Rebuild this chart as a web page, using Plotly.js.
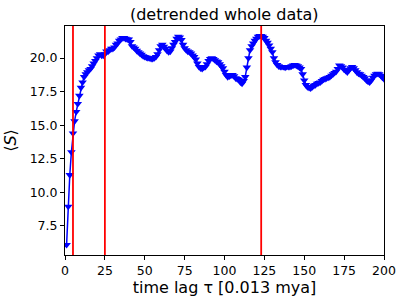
<!DOCTYPE html>
<html>
<head>
<meta charset="utf-8">
<script src="https://cdn.plot.ly/plotly-3.0.1.min.js"></script>
<style>html,body{margin:0;padding:0;background:#fff;}#chart{width:407px;height:305px;}</style>
</head>
<body>
<div id="chart"></div>
<script>
const lagValues = [
6.1, 8.95, 11.3, 13.0, 14.4, 15.3, 16.0, 16.6, 17.2, 17.8,
18.2, 18.6, 18.8, 18.95, 19.1, 19.2, 19.4, 19.6, 19.8, 20.0,
20.2, 20.3, 20.2, 20.2, 20.3, 20.5, 20.5, 20.6, 20.7, 20.7,
20.8, 21.0, 21.1, 21.3, 21.4, 21.5, 21.5, 21.45, 21.4, 21.4,
21.2, 20.9, 20.8, 20.7, 20.55, 20.45, 20.35, 20.25, 20.15, 20.1,
20.05, 20.0, 20.0, 19.95, 19.95, 20.0, 20.1, 20.3, 20.6, 20.9,
21.0, 20.85, 20.7, 20.55, 20.45, 20.5, 20.75, 21.0, 21.2, 21.45,
21.6, 21.55, 21.35, 21.0, 20.75, 20.6, 20.5, 20.45, 20.35, 20.2,
20.1, 19.9, 19.6, 19.35, 19.25, 19.2, 19.3, 19.35, 19.55, 19.8,
19.95, 20.0, 19.95, 19.85, 19.75, 19.7, 19.55, 19.4, 19.25, 19.0,
18.75, 18.6, 18.65, 18.7, 18.75, 18.65, 18.5, 18.45, 18.4, 18.2,
18.1, 18.3, 18.6, 19.3, 20.0, 20.6, 20.9, 21.1, 21.3, 21.45,
21.6, 21.65, 21.65, 21.6, 21.5, 21.3, 21.15, 20.95, 20.7, 20.45,
20.0, 19.7, 19.5, 19.4, 19.35, 19.35, 19.35, 19.3, 19.35, 19.35,
19.35, 19.4, 19.45, 19.5, 19.45, 19.4, 19.3, 19.2, 18.8, 18.35,
18.0, 17.85, 17.8, 17.75, 17.85, 17.95, 18.0, 18.1, 18.15, 18.2,
18.3, 18.4, 18.45, 18.5, 18.55, 18.6, 18.7, 18.8, 18.9, 19.0,
19.2, 19.45, 19.4, 19.3, 19.15, 19.05, 18.95, 19.1, 19.25, 19.35,
19.25, 19.1, 18.95, 18.85, 18.8, 18.7, 18.6, 18.5, 18.35, 18.25,
18.2, 18.35, 18.55, 18.7, 18.8, 18.85, 18.8, 18.7, 18.55, 18.45
];
const lags = lagValues.map((v, i) => i + 1);
const markerLags = [5, 25, 123];
const xTicks = [0, 25, 50, 75, 100, 125, 150, 175, 200];
const yTicks = [7.5, 10.0, 12.5, 15.0, 17.5, 20.0];

const font = {family: 'DejaVu Sans, sans-serif', color: '#000'};

const trace = {
  x: lags, y: lagValues, type: 'scatter', mode: 'lines+markers',
  line: {color: '#0000ff', width: 1.5},
  marker: {symbol: 'triangle-down', size: 7.5, color: '#0000ff'},
  hoverinfo: 'none'
};

const shapes = markerLags.map(x => ({
  type: 'line', xref: 'x', yref: 'paper', x0: x, x1: x, y0: 0, y1: 1,
  line: {color: '#ff0000', width: 1.8}
}));

const layout = {
  width: 407, height: 305,
  margin: {l: 65, r: 23, t: 26, b: 50},
  paper_bgcolor: '#fff', plot_bgcolor: '#fff',
  showlegend: false,
  title: {text: '(detrended whole data)', font: Object.assign({size: 16}, font), x: 0.551, xanchor: 'center', y: 0.952, yanchor: 'middle'},
  xaxis: {
    range: [0, 200], tickvals: xTicks, ticktext: xTicks.map(String),
    ticks: 'outside', ticklen: 4, tickcolor: '#000', tickwidth: 1,
    showgrid: false, zeroline: false, showline: true, linecolor: '#000', linewidth: 1, mirror: true,
    tickfont: Object.assign({size: 12.5}, font),
    title: {text: 'time lag τ [0.013 mya]', font: Object.assign({size: 16}, font), standoff: 4}
  },
  yaxis: {
    range: [5.34, 22.39], tickvals: yTicks, ticktext: yTicks.map(v => v.toFixed(1)),
    ticks: 'outside', ticklen: 4, tickcolor: '#000', tickwidth: 1,
    showgrid: false, zeroline: false, showline: true, linecolor: '#000', linewidth: 1, mirror: true,
    tickfont: Object.assign({size: 12.5}, font),
    title: {text: '⟨<i>S</i>⟩', font: Object.assign({size: 16}, font), standoff: 9}
  },
  shapes: shapes
};

Plotly.newPlot('chart', [trace], layout, {staticPlot: true, displayModeBar: false});
</script>
</body>
</html>
